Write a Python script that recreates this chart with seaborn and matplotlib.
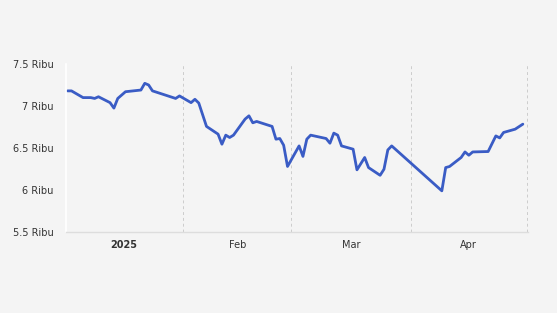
import matplotlib
matplotlib.use("Agg")
import matplotlib.pyplot as plt
import seaborn as sns
import pandas as pd

dates = [
    "2025-01-02", "2025-01-03", "2025-01-06", "2025-01-08", "2025-01-09", "2025-01-10",
    "2025-01-13", "2025-01-14", "2025-01-15", "2025-01-17", "2025-01-21", "2025-01-22",
    "2025-01-23", "2025-01-24", "2025-01-30", "2025-01-31", "2025-02-03", "2025-02-04",
    "2025-02-05", "2025-02-07", "2025-02-10", "2025-02-11", "2025-02-12", "2025-02-13",
    "2025-02-14", "2025-02-17", "2025-02-18", "2025-02-19", "2025-02-20", "2025-02-24",
    "2025-02-25", "2025-02-26", "2025-02-27", "2025-02-28", "2025-03-03", "2025-03-04",
    "2025-03-05", "2025-03-06", "2025-03-10", "2025-03-11", "2025-03-12", "2025-03-13",
    "2025-03-14", "2025-03-17", "2025-03-18", "2025-03-20", "2025-03-21", "2025-03-24",
    "2025-03-25", "2025-03-26", "2025-03-27", "2025-04-09", "2025-04-10", "2025-04-11",
    "2025-04-14", "2025-04-15", "2025-04-16", "2025-04-17", "2025-04-21", "2025-04-23",
    "2025-04-24", "2025-04-25", "2025-04-28", "2025-04-30",
]
values = [
    7.18, 7.18, 7.10, 7.10, 7.09, 7.11,
    7.04, 6.975, 7.09, 7.17, 7.19, 7.27,
    7.25, 7.18, 7.09, 7.12, 7.04, 7.08,
    7.035, 6.757, 6.665, 6.545, 6.653, 6.625,
    6.653, 6.844, 6.883, 6.80, 6.816, 6.757,
    6.605, 6.613, 6.533, 6.28, 6.525, 6.40,
    6.605, 6.653, 6.613, 6.557, 6.677, 6.653,
    6.525, 6.486, 6.24, 6.387, 6.267, 6.175,
    6.247, 6.477, 6.525, 5.99, 6.267, 6.28,
    6.387, 6.453, 6.414, 6.453, 6.458, 6.644,
    6.62, 6.685, 6.724, 6.784,
]
y_ticks = [5.5, 6, 6.5, 7, 7.5]
y_labels = ["5.5 Ribu", "6 Ribu", "6.5 Ribu", "7 Ribu", "7.5 Ribu"]
month_labels = ["2025", "Feb", "Mar", "Apr"]

df = pd.DataFrame({"date": pd.to_datetime(dates), "value": values})

sns.set_theme(style="white")
plt.rcParams["font.family"] = ["DejaVu Sans"]

bg = "#f4f4f4"
fig = plt.figure(figsize=(5.57, 3.13), dpi=100, facecolor=bg)
ax = fig.add_axes([66/557, 1-232/313, (528-66)/557, (232-64)/313])
ax.set_facecolor(bg)

sns.lineplot(data=df, x="date", y="value", ax=ax, color="#3a5cc5", linewidth=2.0)

ax.set_xlim(pd.Timestamp("2025-01-01 14:00"), pd.Timestamp("2025-05-01 08:00"))
ax.set_ylim(5.5, 7.5)

month_starts = pd.to_datetime(["2025-01-01", "2025-02-01", "2025-03-01", "2025-04-01", "2025-05-01"])
ax.set_xticks(month_starts[1:])
ax.set_xticklabels([""] * (len(month_starts) - 1))
mids = [month_starts[i] + (month_starts[i+1] - month_starts[i]) / 2 for i in range(4)]
ax.set_xticks(mids, minor=True)
ax.set_xticklabels(month_labels, minor=True)
for i, lab in enumerate(ax.get_xticklabels(minor=True)):
    lab.set_fontsize(7)
    lab.set_color("#333333")
    if i == 0:
        lab.set_fontweight("bold")
ax.tick_params(axis="x", which="major", length=4, color="#dddddd", width=0.8)
ax.tick_params(axis="x", which="minor", length=0, pad=6)

for d in month_starts[1:]:
    ax.axvline(d, color="#cccccc", linestyle=(0, (3, 3)), linewidth=0.7, zorder=0)

ax.set_yticks(y_ticks)
ax.set_yticklabels(y_labels, fontsize=7, color="#333333")
ax.tick_params(axis="y", length=4, color="white", width=1, pad=5)

ax.set_xlabel("")
ax.set_ylabel("")
for s in ["top", "right"]:
    ax.spines[s].set_visible(False)
ax.spines["left"].set_color("white")
ax.spines["left"].set_linewidth(1.2)
ax.spines["bottom"].set_color("#dddddd")
ax.spines["bottom"].set_linewidth(1.0)
ax.grid(False)

fig.savefig("out.png", dpi=100, facecolor=bg)
